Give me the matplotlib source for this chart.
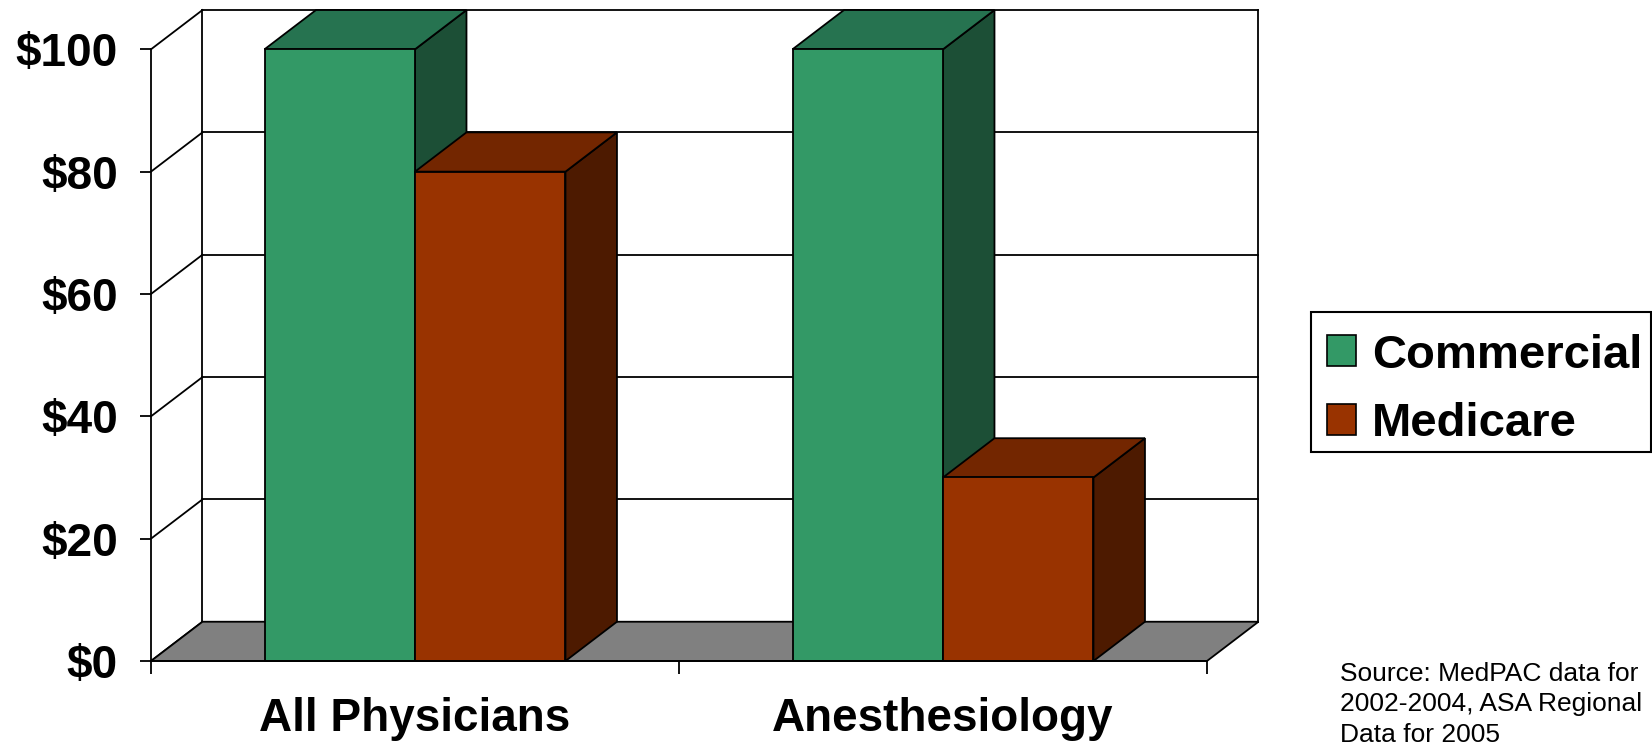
import matplotlib
matplotlib.use('Agg')
import matplotlib.pyplot as plt
from matplotlib.patches import Polygon, Patch, Rectangle
import numpy as np


categories = ['All Physicians', 'Anesthesiology']
series_names = ['Commercial', 'Medicare']
commercial = [100, 100]
medicare = [80, 30]
y_ticks = [0, 20, 40, 60, 80, 100]
y_labels = [r'\$0', r'\$20', r'\$40', r'\$60', r'\$80', r'\$100']
source_note = 'Source: MedPAC data for\n2002-2004, ASA Regional\nData for 2005'

# face colours: front, top, side
COLORS = {
    'Commercial': ('#339966', '#267350', '#1c4f36'),
    'Medicare': ('#993300', '#732600', '#4d1a00'),
}
DX = 0.0975   # depth in category units
DY = 6.42     # depth in value units
GROUP_W = 0.57
LW = 1.3
W, H = 1652, 742

plt.rcParams['font.family'] = ['Liberation Sans', 'DejaVu Sans']
plt.rcParams['font.weight'] = 'bold'


def poly(ax, pts, fc, z):
    ax.add_patch(Polygon(pts, closed=True, facecolor=fc, edgecolor='black',
                         linewidth=LW, zorder=z, clip_on=False,
                         joinstyle='miter'))


def bar3d(ax, x0, x1, h, colors, z):
    front, top, side = colors
    poly(ax, [(x1, 0), (x1 + DX, DY), (x1 + DX, h + DY), (x1, h)], side, z)
    poly(ax, [(x0, h), (x1, h), (x1 + DX, h + DY), (x0 + DX, h + DY)], top, z)
    poly(ax, [(x0, 0), (x1, 0), (x1, h), (x0, h)], front, z + 0.1)


def main():
    fig = plt.figure(figsize=(W / 100, H / 100), dpi=100)
    ax = fig.add_axes([151 / W, (H - 661) / H, 1056 / W, (661 - 49.3) / H])
    n = len(categories)
    ymax = y_ticks[-1]
    ax.set_xlim(0, n)
    ax.set_ylim(0, ymax)

    # floor
    ax.add_patch(Polygon([(0, 0), (n, 0), (n + DX, DY), (DX, DY)], closed=True,
                         facecolor='#808080', edgecolor='black', linewidth=LW,
                         zorder=1, clip_on=False))
    # back wall grid + side diagonals
    for v in y_ticks:
        ax.plot([DX, n + DX], [v + DY, v + DY], color='black', lw=LW,
                zorder=0.5, clip_on=False)
        ax.plot([0, DX], [v, v + DY], color='black', lw=LW,
                zorder=0.5, clip_on=False)
    ax.plot([DX, DX], [DY, ymax + DY], color='black', lw=LW, zorder=0.5, clip_on=False)
    ax.plot([n + DX, n + DX], [DY, ymax + DY], color='black', lw=LW, zorder=0.5,
            clip_on=False)

    # bars
    for i in range(n):
        c = i + 0.5
        bar3d(ax, c - GROUP_W / 2, c, commercial[i], COLORS['Commercial'], 2 + i)
        bar3d(ax, c, c + GROUP_W / 2, medicare[i], COLORS['Medicare'], 2.5 + i)

    for s in ['top', 'right']:
        ax.spines[s].set_visible(False)
    ax.spines['left'].set_linewidth(LW)
    ax.spines['bottom'].set_linewidth(LW)
    ax.spines['bottom'].set_zorder(10)
    ax.patch.set_visible(False)

    ax.set_yticks(y_ticks)
    ax.set_yticklabels(y_labels, fontsize=33, fontweight='bold')
    ax.tick_params(axis='y', length=8, width=LW, pad=16)
    ax.set_xticks(np.arange(n + 1))
    ax.set_xticklabels([])
    ax.tick_params(axis='x', which='major', length=9, width=LW)
    ax.set_xticks(np.arange(n) + 0.5, minor=True)
    ax.set_xticklabels(categories, minor=True, fontsize=33, fontweight='bold')
    ax.tick_params(axis='x', which='minor', length=0, pad=26)

    # legend: entries without frame, frame drawn separately
    handles = [Patch(facecolor=COLORS[s][0], edgecolor='black', linewidth=1.2)
               for s in series_names]
    fig.legend(handles, series_names, loc='upper left',
               bbox_to_anchor=(1326.7 / W, (H - 333.5) / H),
               borderaxespad=0, prop={'weight': 'bold', 'size': 34},
               handlelength=0.63, handleheight=0.63, handletextpad=0.33,
               borderpad=0, labelspacing=0.52, frameon=False)
    fig.add_artist(Rectangle((1310.7 / W, (H - 451.7) / H),
                             (1651 - 1310.7) / W, 140 / H,
                             transform=fig.transFigure, facecolor='none',
                             edgecolor='black', linewidth=1.5))

    fig.text(1340 / W, 1 - 662 / H, source_note, fontsize=19,
             fontweight='normal', va='top', ha='left', linespacing=1.33)

    fig.savefig('out.png', dpi=100)


if __name__ == '__main__':
    main()
